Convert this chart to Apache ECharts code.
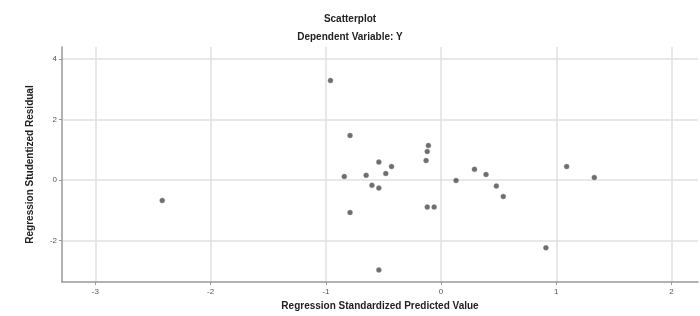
<!DOCTYPE html>
<html>
<head>
<meta charset="utf-8">
<script src="https://cdn.jsdelivr.net/npm/echarts@6/dist/echarts.min.js"></script>
<style>
  html, body { margin: 0; padding: 0; background: #fff; }
  #chart { width: 700px; height: 316px; }
</style>
</head>
<body>
<div id="chart"></div>
<script>
// standardized predicted value (x) and studentized residual (y)
const predicted = [-0.96, -0.79, -0.84, -0.65, -0.54, -0.43, -0.48, -0.60, -0.54, -0.79,
  -0.11, -0.12, -0.13, -0.12, -0.06, 0.13, 0.29, 0.39, 0.48, 0.54,
  1.09, 1.33, 0.91, -0.54, -2.42];
const residual = [3.29, 1.47, 0.11, 0.15, 0.59, 0.44, 0.21, -0.18, -0.27, -1.08,
  1.14, 0.94, 0.64, -0.90, -0.90, -0.02, 0.35, 0.18, -0.20, -0.55,
  0.44, 0.08, -2.25, -2.98, -0.68];
const xTicks = [-3, -2, -1, 0, 1, 2];
const yTicks = [-2, 0, 2, 4];

const chart = echarts.init(document.getElementById('chart'));
const points = predicted.map((x, i) => [x, residual[i]]);
const font = 'Liberation Sans';

const option = {
  animation: false,
  title: {
    text: 'Scatterplot',
    subtext: 'Dependent Variable: Y',
    left: 'center',
    top: 9,
    itemGap: 8,
    textStyle: { fontFamily: font, fontSize: 10, fontWeight: 'bold', color: '#222' },
    subtextStyle: { fontFamily: font, fontSize: 10, fontWeight: 'bold', color: '#222' }
  },
  grid: { left: 62, right: 2, top: 47, bottom: 33 },
  xAxis: {
    type: 'value',
    min: -3.29,
    max: 2.23,
    name: 'Regression Standardized Predicted Value',
    nameLocation: 'middle',
    nameGap: 19,
    nameTextStyle: { fontFamily: font, fontSize: 10, fontWeight: 'bold', color: '#222' },
    axisLine: { show: true, onZero: false, lineStyle: { color: '#999', width: 1.5 } },
    axisTick: { show: true, customValues: xTicks, length: 3, lineStyle: { color: '#999' } },
    axisLabel: { customValues: xTicks, fontFamily: font, fontSize: 8, color: '#555', margin: 6 },
    splitLine: { show: true, lineStyle: { color: '#e0e0e0', width: 1.5 } }
  },
  yAxis: {
    type: 'value',
    min: -3.38,
    max: 4.4,
    name: 'Regression Studentized Residual',
    nameLocation: 'middle',
    nameGap: 27,
    nameTextStyle: { fontFamily: font, fontSize: 10, fontWeight: 'bold', color: '#222' },
    axisLine: { show: true, onZero: false, lineStyle: { color: '#999', width: 1.5 } },
    axisTick: { show: true, customValues: yTicks, length: 3, lineStyle: { color: '#999' } },
    axisLabel: { customValues: yTicks, fontFamily: font, fontSize: 8, color: '#555', margin: 5 },
    splitLine: { show: true, lineStyle: { color: '#e0e0e0', width: 1.5 } }
  },
  series: [{
    type: 'scatter',
    data: points,
    symbol: 'circle',
    symbolSize: 5,
    itemStyle: { color: '#4a4a4a', borderColor: '#888', borderWidth: 0.5 }
  }]
};

chart.setOption(option);
</script>
</body>
</html>
